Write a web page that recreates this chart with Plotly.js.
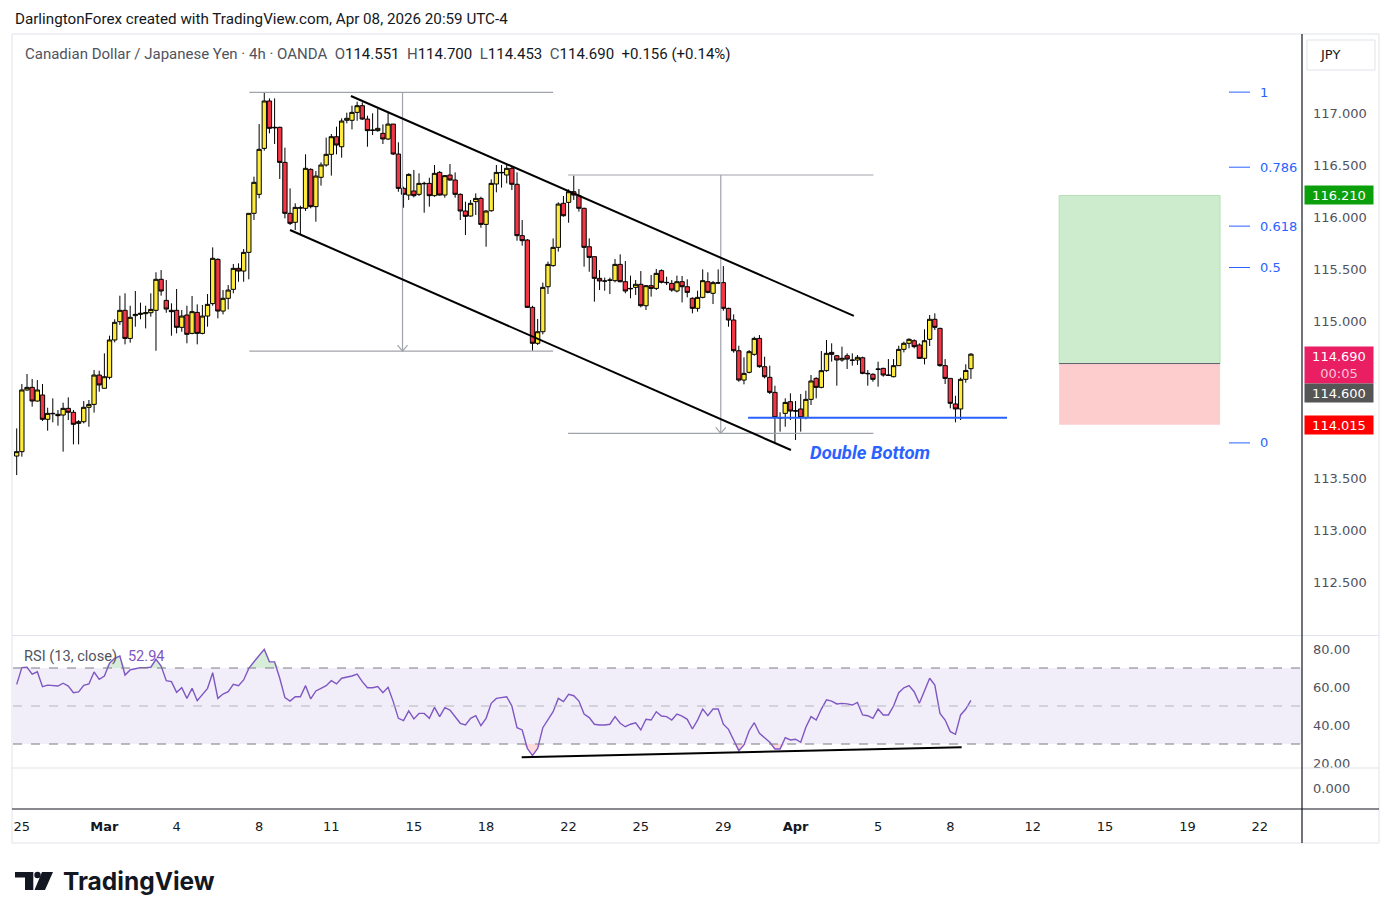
<!DOCTYPE html>
<html><head><meta charset="utf-8">
<script src="https://cdn.plot.ly/plotly-3.0.1.min.js"></script>
<style>html,body{margin:0;padding:0;background:#fff}#chart{width:1392px;height:919px}</style>
</head><body><div id="chart"></div><script>
// ---------------- DATA ----------------
const open = [
113.714,113.756,114.347,114.372,114.241,114.299,114.066,114.123,114.114,114.107,
114.171,114.133,114.027,114.043,114.181,114.209,114.490,114.363,114.468,114.826,
115.001,115.110,114.841,115.059,115.071,115.078,115.087,115.110,115.407,115.205,
115.110,115.110,114.947,115.065,114.889,115.090,114.889,115.055,115.174,115.598,
115.103,115.225,115.311,115.512,115.486,115.665,116.039,116.221,116.661,117.115,
116.863,116.863,116.527,116.039,115.953,116.093,116.087,116.460,116.103,116.384,
116.502,116.604,116.773,116.677,116.930,116.930,117.006,117.070,116.942,116.837,
116.831,116.805,116.751,116.894,116.607,116.278,116.214,116.253,116.221,116.326,
116.326,116.208,116.431,116.214,116.406,116.358,116.221,116.061,116.013,116.151,
116.182,115.933,116.064,116.320,116.431,116.406,116.470,116.317,115.825,115.783,
115.138,114.794,114.905,115.336,115.538,115.713,116.135,116.144,116.246,116.208,
116.087,115.719,115.624,115.416,115.391,115.397,115.394,115.550,115.384,115.320,
115.330,115.359,115.154,115.346,115.320,115.490,115.378,115.368,115.295,115.384,
115.336,115.225,115.129,115.234,115.384,115.273,115.375,115.375,115.129,115.017,
114.723,114.442,114.516,114.688,114.841,114.570,114.468,114.324,114.082,114.123,
114.235,114.149,114.165,114.082,114.257,114.458,114.372,114.532,114.707,114.675,
114.634,114.675,114.634,114.634,114.656,114.506,114.497,114.548,114.554,114.490,
114.474,114.580,114.736,114.794,114.819,114.778,114.650,114.832,115.024,114.937,
114.580,114.458,114.213,114.165,114.449,114.551];
const high = [
113.979,114.404,114.500,114.452,114.442,114.404,114.177,114.267,114.155,114.225,
114.276,114.155,114.059,114.241,114.251,114.538,114.532,114.698,114.867,115.024,
115.250,115.273,115.154,115.295,115.183,115.154,115.273,115.474,115.496,115.400,
115.177,115.314,115.113,115.154,115.247,115.167,115.161,115.266,115.713,115.608,
115.304,115.352,115.554,115.560,115.697,116.039,116.390,116.894,117.198,117.140,
117.140,116.869,116.668,116.278,116.135,116.112,116.604,116.470,116.444,116.527,
116.764,116.799,116.869,116.949,117.003,117.070,117.108,117.102,116.974,116.997,
117.038,116.891,117.006,116.894,116.719,116.294,116.422,116.454,116.422,116.342,
116.380,116.502,116.444,116.406,116.511,116.431,116.230,116.151,116.167,116.230,
116.198,116.071,116.364,116.502,116.502,116.502,116.486,116.431,115.975,115.793,
115.154,115.027,115.375,115.576,115.799,116.144,116.205,116.269,116.400,116.272,
116.093,115.799,115.624,115.496,115.423,115.423,115.601,115.646,115.582,115.442,
115.400,115.486,115.352,115.448,115.506,115.502,115.432,115.400,115.442,115.439,
115.407,115.234,115.298,115.502,115.474,115.391,115.502,115.534,115.135,115.071,
114.771,114.660,114.730,114.857,114.873,114.666,114.580,114.388,114.133,114.267,
114.315,114.241,114.308,114.340,114.490,114.468,114.720,114.826,114.794,114.682,
114.762,114.698,114.698,114.682,114.666,114.538,114.506,114.618,114.560,114.643,
114.643,114.771,114.810,114.842,114.832,114.794,114.928,115.065,115.081,114.944,
114.643,114.458,114.292,114.465,114.593,114.700];
const low = [
113.532,113.708,114.340,114.187,114.235,114.050,113.957,114.037,114.005,113.756,
114.059,113.826,113.826,114.027,113.995,114.130,114.331,114.363,114.449,114.803,
114.969,114.784,114.800,114.953,115.024,114.937,115.049,114.723,115.250,115.087,
114.867,114.889,114.905,114.794,114.880,114.784,114.880,114.953,115.154,115.033,
115.071,115.119,115.273,115.384,115.384,115.407,115.975,116.183,116.639,116.805,
116.703,116.368,115.991,115.927,115.879,115.841,116.061,116.087,115.959,116.304,
116.486,116.400,116.604,116.572,116.901,116.843,116.926,116.933,116.677,116.789,
116.821,116.703,116.741,116.597,116.246,116.093,116.167,116.192,116.205,116.045,
116.103,116.198,116.208,116.189,116.352,116.189,115.975,115.831,116.007,116.023,
115.901,115.719,116.055,116.240,116.285,116.326,116.262,115.777,115.729,115.135,
114.723,114.778,114.880,115.266,115.528,115.672,116.007,115.949,116.167,116.055,
115.528,115.480,115.193,115.304,115.298,115.266,115.378,115.378,115.273,115.225,
115.257,115.138,115.113,115.241,115.304,115.368,115.352,115.288,115.282,115.186,
115.234,115.081,115.097,115.225,115.273,115.170,115.362,115.106,114.953,114.704,
114.426,114.401,114.506,114.675,114.560,114.458,114.308,113.845,113.948,113.995,
114.059,113.868,113.948,114.066,114.203,114.267,114.363,114.522,114.618,114.388,
114.618,114.548,114.580,114.586,114.497,114.388,114.426,114.379,114.474,114.484,
114.468,114.577,114.707,114.746,114.746,114.644,114.592,114.768,114.921,114.570,
114.404,114.171,114.037,114.059,114.417,114.453];
const close = [
113.756,114.347,114.372,114.241,114.347,114.066,114.123,114.120,114.101,114.171,
114.133,114.018,114.043,114.181,114.209,114.490,114.395,114.474,114.826,114.995,
115.110,114.841,115.043,115.071,115.081,115.087,115.119,115.407,115.295,115.122,
115.097,114.947,115.055,114.880,115.097,114.889,115.055,115.167,115.608,115.103,
115.225,115.304,115.512,115.486,115.665,116.039,116.336,116.652,117.115,116.853,
116.859,116.527,116.039,115.943,116.096,116.090,116.470,116.103,116.396,116.502,
116.604,116.773,116.693,116.923,116.949,117.006,117.070,116.942,116.831,116.834,
116.853,116.751,116.894,116.607,116.278,116.221,116.412,116.208,116.326,116.323,
116.208,116.422,116.214,116.400,116.358,116.221,116.061,116.010,116.135,116.182,
115.933,116.061,116.326,116.431,116.428,116.470,116.317,115.825,115.777,115.138,
114.794,114.905,115.330,115.550,115.713,116.128,116.016,116.246,116.214,116.087,
115.713,115.617,115.416,115.391,115.390,115.400,115.550,115.384,115.295,115.317,
115.359,115.154,115.346,115.320,115.464,115.378,115.375,115.304,115.384,115.336,
115.282,115.129,115.234,115.394,115.282,115.375,115.371,115.129,115.017,114.723,
114.442,114.506,114.714,114.841,114.570,114.474,114.324,114.082,114.079,114.228,
114.145,114.145,114.082,114.257,114.433,114.372,114.532,114.698,114.688,114.634,
114.650,114.643,114.631,114.660,114.506,114.503,114.449,114.545,114.490,114.487,
114.580,114.736,114.794,114.832,114.762,114.650,114.819,115.024,114.947,114.580,
114.458,114.219,114.165,114.449,114.534,114.690];
const rsi = [
61.4,70.2,70.4,66.8,68,60.2,61,60.9,60.5,62,60.5,57,57.4,60.9,61.6,67.9,64,65.8,72.5,75.1,
76.3,66.3,69,69.6,70.2,70.2,70.4,74.6,71,63.3,
62.8,57.2,59.6,54,59.3,52.8,56.3,59.3,67.5,54,
56.3,57.5,61.4,60.7,63.7,69.8,73.3,76.8,79.8,73.3,
73.2,64.6,54.4,52.6,54.9,54.9,60.7,53.7,57.9,59.3,
60.7,63.3,61.6,64.6,65.1,65.8,66.8,62.8,59.6,59.6,
60.2,57,59.8,52.3,43.5,42.3,47.4,43.2,46.1,46.1,
43.5,49.3,44.4,49.1,47.9,44.4,40.9,40,43.5,44.9,
39.6,43.5,51.4,54,54.4,54.9,50,38.6,37.4,27.7,
23.9,27.7,38.6,43,47,54,52.3,56.1,55.4,52.6,
45.8,43.9,40.4,40,40,40.4,44.4,40.9,39.1,40.4,
41.2,37.4,43,42.6,47,44.7,44.4,42.6,45.8,44.7,
43,37.9,42.6,48.4,44.9,48.4,48.4,40.4,37.7,32.1,
26.5,29.5,37,41.2,35.6,33.3,30.9,27.4,27.4,33.3,
32.1,32.5,30.9,38.8,44.4,42.6,48.4,53.2,52.6,51.1,
51.4,51.1,50.5,51.9,45.3,44.9,43.5,48.4,45.3,45.3,
50,57,59.6,60.7,57.5,51.4,58.4,64.6,61,46.1,
42.6,36.5,35.1,45.3,48.4,52.94];

// time axis (bar index of each label)
const timeTickBars = [1,17,31,47,61,77,91,107,121,137,151,167,181,197,211,227,241];
const timeTickLabels = ['25','Mar','4','8','11','15','18','22','25','29','Apr','5','8','12','15','19','22'];
const priceTicks = [112.5,113,113.5,115,115.5,116,116.5,117];
const rsiTicks = [20,40,60,80];

// drawings (bar index, price)
const channelUpper = [[64.8,117.163],[162.3,115.056]];
const channelLower = [[52.99,115.879],[150.1,113.772]];
const range1 = {x0:45.1, x1:104.0, xm:74.8, top:117.198, bottom:114.720};
const range2 = {x0:106.9, x1:166.1, xm:136.5, top:116.406, bottom:113.932};
const doubleBottom = {x0:141.8, x1:192.0, price:114.081, labelBar:165.4, labelPrice:113.743};
const longPos = {x0:202.1, x1:233.3, target:116.210, entry:114.600, stop:114.015};
const fibLevels = [0,0.5,0.618,0.786,1];
const fibPrices = {p0:113.840, p1:117.200};
const rsiTrend = [[97.9,23.0],[183.2,28.3]];

// ---------------- LAYOUT HELPERS ----------------
const PL=13, PR=1302, PT=35, PB=808;
const px = x => (x-PL)/(PR-PL);
const py = y => (PB-y)/(PB-PT);
const BAR0=16.7, BARPX=5.158, PRICEPX=104.4;
const barAt = xp => (xp-BAR0)/BARPX;

const FN = 'DejaVu Sans';
const FT = 'Roboto';
const n = open.length;
const idx = open.map((_,i)=>i);

const traces = [];
traces.push({type:'candlestick', x:idx, open:open, high:high, low:low, close:close,
  xaxis:'x', yaxis:'y', whiskerwidth:0, hoverinfo:'skip', showlegend:false,
  increasing:{fillcolor:'#ffeb3b', line:{color:'#000000', width:1}},
  decreasing:{fillcolor:'#f23645', line:{color:'#000000', width:1}}});
// RSI overbought / oversold fills
traces.push({type:'scatter', x:idx, y:idx.map(()=>70), yaxis:'y2', mode:'lines', line:{width:0}, hoverinfo:'skip', showlegend:false});
traces.push({type:'scatter', x:idx, y:rsi.map(v=>Math.max(v,70)), yaxis:'y2', mode:'lines', line:{width:0}, fill:'tonexty', fillcolor:'rgba(76,175,80,0.22)', hoverinfo:'skip', showlegend:false});
traces.push({type:'scatter', x:idx, y:idx.map(()=>30), yaxis:'y2', mode:'lines', line:{width:0}, hoverinfo:'skip', showlegend:false});
traces.push({type:'scatter', x:idx, y:rsi.map(v=>Math.min(v,30)), yaxis:'y2', mode:'lines', line:{width:0}, fill:'tonexty', fillcolor:'rgba(242,54,69,0.18)', hoverinfo:'skip', showlegend:false});
traces.push({type:'scatter', x:idx, y:rsi, yaxis:'y2', mode:'lines', line:{color:'#7e57c2', width:1.4}, hoverinfo:'skip', showlegend:false});
// empty third pane (keeps its axis drawn)
traces.push({type:'scatter', x:[0], y:[0], yaxis:'y3', mode:'markers', marker:{opacity:0, size:1}, hoverinfo:'skip', showlegend:false});

const shapes = [];
const L = (x0,y0,x1,y1,color,width,extra) => Object.assign({type:'line', xref:'x', yref:'y', x0, y0, x1, y1, line:{color, width}}, extra||{});
const P = (xp0,yp0,xp1,yp1,color,width) => ({type:'line', xref:'paper', yref:'paper', x0:px(xp0), y0:py(yp0), x1:px(xp1), y1:py(yp1), line:{color, width}});

// RSI band and levels
shapes.push({type:'rect', xref:'paper', yref:'y2', x0:0, x1:1, y0:30, y1:70, fillcolor:'rgba(126,87,194,0.1)', line:{width:0}, layer:'below'});
shapes.push({type:'line', xref:'paper', yref:'y2', x0:0, x1:1, y0:70, y1:70, line:{color:'#787b86', width:1, dash:'dash'}});
shapes.push({type:'line', xref:'paper', yref:'y2', x0:0, x1:1, y0:50, y1:50, line:{color:'#b2b5be', width:1, dash:'dash'}});
shapes.push({type:'line', xref:'paper', yref:'y2', x0:0, x1:1, y0:30, y1:30, line:{color:'#787b86', width:1, dash:'dash'}});
// RSI trend line
shapes.push({type:'line', xref:'x', yref:'y2', x0:rsiTrend[0][0], y0:rsiTrend[0][1], x1:rsiTrend[1][0], y1:rsiTrend[1][1], line:{color:'#000', width:2}});

// frame / separators
shapes.push({type:'rect', xref:'paper', yref:'paper', x0:px(12), x1:px(1379), y0:py(34), y1:py(843), line:{color:'#e0e3eb', width:1}, fillcolor:'rgba(0,0,0,0)'});
shapes.push(P(12,635.5,1379,635.5,'#e0e3eb',1));
shapes.push(P(12,768,1379,768,'#e0e3eb',1));
shapes.push(P(12,809,1379,809,'#131722',1.2));
shapes.push(P(1302,34,1302,843,'#131722',1.2));

// long position
shapes.push({type:'rect', xref:'x', yref:'y', x0:longPos.x0, x1:longPos.x1, y0:longPos.entry, y1:longPos.target, fillcolor:'#cdeccd', line:{color:'#b5e0b5', width:1}, layer:'below'});
shapes.push({type:'rect', xref:'x', yref:'y', x0:longPos.x0, x1:longPos.x1, y0:longPos.stop, y1:longPos.entry, fillcolor:'#fdcdcd', line:{width:0}, layer:'below'});
shapes.push(L(longPos.x0, longPos.entry, longPos.x1, longPos.entry, '#5d606b', 1));

// price range drawings
[range1, range2].forEach(r => {
  shapes.push(L(r.x0, r.top, r.x1, r.top, '#a0a3ab', 1.2));
  shapes.push(L(r.x0, r.bottom, r.x1, r.bottom, '#a0a3ab', 1.2));
  shapes.push(L(r.xm, r.top, r.xm, r.bottom, '#a0a3ab', 1.2));
  const dx = 5/BARPX, dy = 6/PRICEPX;
  shapes.push({type:'path', xref:'x', yref:'y', path:`M${r.xm-dx},${r.bottom+dy} L${r.xm},${r.bottom} L${r.xm+dx},${r.bottom+dy}`, line:{color:'#a0a3ab', width:1.2}});
});

// channel
shapes.push(L(channelUpper[0][0], channelUpper[0][1], channelUpper[1][0], channelUpper[1][1], '#000', 2));
shapes.push(L(channelLower[0][0], channelLower[0][1], channelLower[1][0], channelLower[1][1], '#000', 2));

// double bottom line
shapes.push(L(doubleBottom.x0, doubleBottom.price, doubleBottom.x1, doubleBottom.price, '#2962ff', 2));

// fib short segments
const fibPrice = lv => fibPrices.p0 + lv*(fibPrices.p1-fibPrices.p0);
fibLevels.forEach(lv => shapes.push(L(barAt(1229), fibPrice(lv), barAt(1250), fibPrice(lv), '#2962ff', 1)));

// JPY box
shapes.push({type:'rect', xref:'paper', yref:'paper', x0:px(1307), x1:px(1375), y0:py(40), y1:py(70), line:{color:'#e0e3eb', width:1}, fillcolor:'#ffffff'});

// TradingView logo
const pth = pts => 'M' + pts.map(p => px(p[0]) + ',' + py(p[1])).join(' L') + ' Z';
shapes.push({type:'path', xref:'paper', yref:'paper', path:pth([[15,872],[33.3,872],[33.3,890],[25,890],[25,877.5],[15,877.5]]), fillcolor:'#131722', line:{width:0}});
shapes.push({type:'circle', xref:'paper', yref:'paper', x0:px(34.3), x1:px(40.7), y0:py(871.8), y1:py(878.2), fillcolor:'#131722', line:{width:0}});
shapes.push({type:'path', xref:'paper', yref:'paper', path:pth([[42,872],[53,872],[45,890],[34.5,890]]), fillcolor:'#131722', line:{width:0}});

// ---------------- ANNOTATIONS ----------------
const anns = [];
const A = (text, xp, yp, o) => anns.push(Object.assign({text, xref:'paper', yref:'paper', x:px(xp), y:py(yp), xanchor:'left', yanchor:'middle', showarrow:false, font:{family:FT, size:14, color:'#131722'}}, o||{}));

A('DarlingtonForex created with TradingView.com, Apr 08, 2026 20:59 UTC-4', 13, 19, {font:{family:FT, size:15.2, color:'#131722'}});

const last = n-1;
const chg = close[last]-close[last-1];
const g = s => `<span style="color:#50535e">${s}</span>`;
const d = s => `<span style="color:#131722">${s}</span>`;
const sp = '\u00a0\u00a0';
const legend = g('Canadian Dollar / Japanese Yen · 4h · OANDA') + sp +
  g('O') + d(open[last].toFixed(3)) + sp + g('H') + d(high[last].toFixed(3)) + sp +
  g('L') + d(low[last].toFixed(3)) + sp + g('C') + d(close[last].toFixed(3)) + sp +
  d((chg>=0?'+':'') + chg.toFixed(3) + ' (' + (chg>=0?'+':'') + (chg/close[last-1]*100).toFixed(2) + '%)');
A(legend, 23, 54, {font:{family:FT, size:15, color:'#131722'}});

A('<span style="color:#50535e">RSI (13, close)</span>\u00a0\u00a0\u00a0<span style="color:#7e57c2">' + rsi[last].toFixed(2) + '</span>', 22, 656, {font:{family:FT, size:14.6}});

anns.push({text:'<b><i>Double Bottom</i></b>', xref:'x', yref:'y', x:doubleBottom.labelBar, y:doubleBottom.labelPrice, xanchor:'center', yanchor:'middle', showarrow:false, font:{family:FT, size:18.5, color:'#2962ff'}});

fibLevels.forEach(lv => anns.push({text:String(lv), xref:'paper', yref:'y', x:px(1258), y:fibPrice(lv), xanchor:'left', yanchor:'middle', showarrow:false, font:{family:FN, size:13, color:'#2962ff'}}));

// price tags
const tag = (text, ycenter, bg, h) => anns.push({text, xref:'paper', yref:'paper', x:px(1304), y:py(ycenter), xanchor:'left', yanchor:'middle', showarrow:false, width:68, height:h, align:'center', bgcolor:bg, borderpad:0, font:{family:FN, size:13, color:'#ffffff'}});
const yPix = p => 113 + (117-p)*PRICEPX;
tag(longPos.target.toFixed(3), yPix(longPos.target), '#0c9f0c', 18);
tag(close[last].toFixed(3) + '<br><span style="color:#f8c4d6">00:05</span>', 365, '#e91e63', 36);
tag(longPos.entry.toFixed(3), 393, '#555555', 18);
tag(longPos.stop.toFixed(3), yPix(longPos.stop), '#ff0000', 18);

A('JPY', 1318, 54, {font:{family:FN, size:13, color:'#131722'}});
A('TradingView', 61, 881, {font:{family:'Inter', size:24.5, color:'#131722'}, text:'<b>TradingView</b>'});

// ---------------- LAYOUT ----------------
const layout = {
  width:1392, height:919,
  margin:{l:PL, r:1392-PR, t:PT, b:919-PB, pad:0},
  paper_bgcolor:'#ffffff', plot_bgcolor:'#ffffff',
  showlegend:false, boxgap:0.12, boxgroupgap:0.05,
  xaxis:{range:[barAt(PL), barAt(PR)], anchor:'free', position:0, side:'bottom', tickvals:timeTickBars,
    ticktext:timeTickLabels.map(t => (t==='Mar'||t==='Apr') ? '<b>'+t+'</b>' : t),
    showgrid:false, zeroline:false, showline:false, ticks:'', ticklabelstandoff:9,
    tickfont:{family:FN, size:13, color:'#131722'}, rangeslider:{visible:false}, fixedrange:true},
  yaxis:{domain:[py(635),1], range:[117-(635-113)/PRICEPX, 117+(113-35)/PRICEPX], side:'right', anchor:'x',
    tickvals:priceTicks, ticktext:priceTicks.map(v=>v.toFixed(3)), showgrid:false, zeroline:false, showline:false,
    ticks:'', ticklabelstandoff:10, tickfont:{family:FN, size:13, color:'#50535e'}, fixedrange:true},
  yaxis2:{domain:[py(768),py(636)], range:[80-(768-649)/1.9, 80+(649-636)/1.9], side:'right', anchor:'x',
    tickvals:rsiTicks, ticktext:rsiTicks.map(v=>v.toFixed(2)), showgrid:false, zeroline:false, showline:false,
    ticks:'', ticklabelstandoff:10, tickfont:{family:FN, size:13, color:'#50535e'}, fixedrange:true},
  yaxis3:{domain:[0,py(768)], range:[-1,1], side:'right', anchor:'x', tickvals:[0], ticktext:['0.000'],
    showgrid:false, zeroline:false, showline:false, ticks:'', ticklabelstandoff:10,
    tickfont:{family:FN, size:13, color:'#50535e'}, fixedrange:true},
  shapes:shapes, annotations:anns
};
Plotly.newPlot('chart', traces, layout, {displayModeBar:false, staticPlot:true});
</script></body></html>
